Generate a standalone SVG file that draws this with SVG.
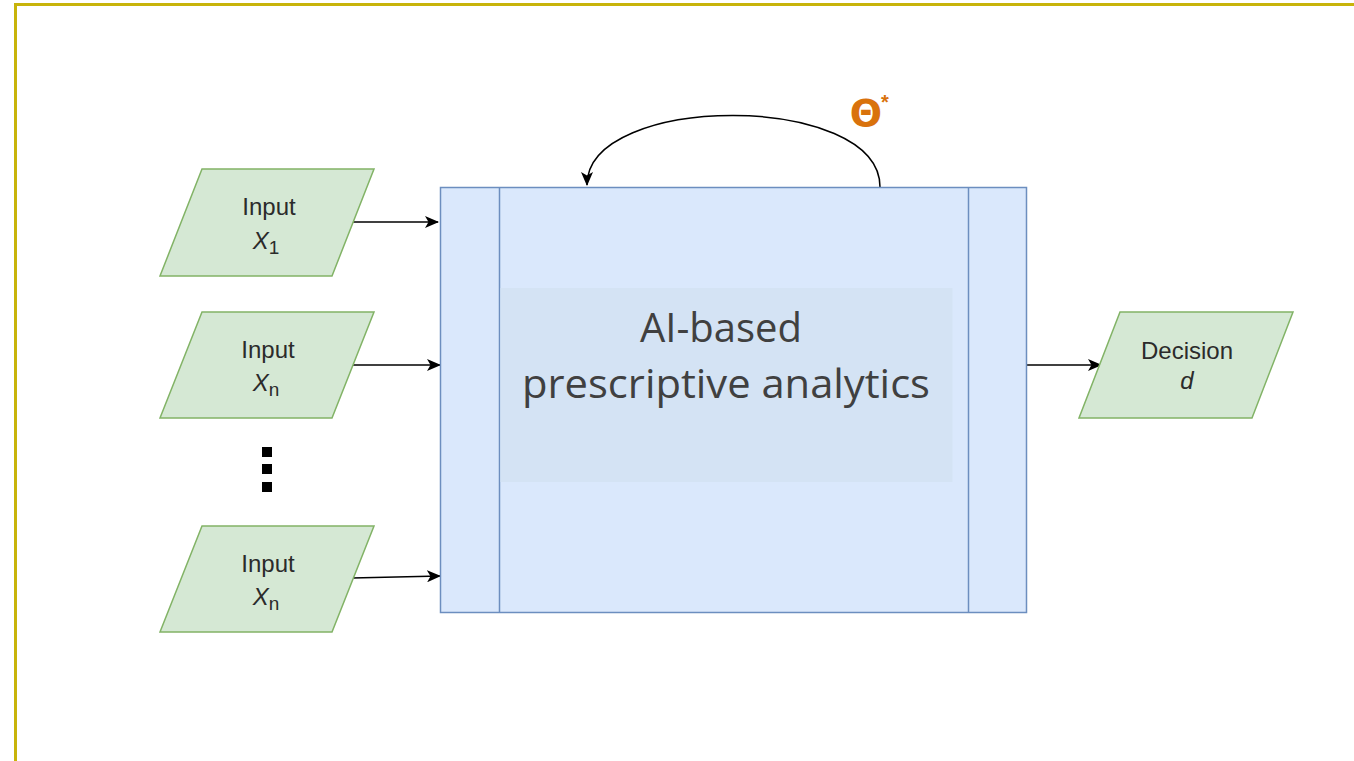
<svg xmlns="http://www.w3.org/2000/svg" width="1354" height="761" viewBox="0 0 1354 761">
<defs>
<style>
.io{fill:#d5e8d4;stroke:#82b366;stroke-width:1.5}
.lbl{font-family:"Liberation Sans",Arial,sans-serif;font-size:24px;fill:#2b2b2b;text-anchor:middle}
.it{font-style:italic}
.sub{font-size:19px;font-style:normal}
.con{fill:none;stroke:#000;stroke-width:1.5}
.main{fill:#dae8fc;stroke:#6c8ebf;stroke-width:1.5}
.big{font-family:"Open Sans","Noto Sans",sans-serif;font-size:40px;fill:#404040;text-anchor:middle}
</style>
<marker id="arr" markerWidth="14" markerHeight="12" refX="13" refY="6" orient="auto" markerUnits="userSpaceOnUse">
<path d="M0,0 L14,6 L0,12 L3.5,6 Z" fill="#000"/>
</marker>
</defs>
<rect width="1354" height="761" fill="#fff"/>
<g id="frame" fill="none" stroke="#c8b40a" stroke-width="3">
<path d="M15.5,761 V4.5 H1354"/>
</g>
<g id="connectors">
<path class="con" d="M352,222 H438" marker-end="url(#arr)"/>
<path class="con" d="M352,365 H440" marker-end="url(#arr)"/>
<path class="con" d="M352,578 L440,576" marker-end="url(#arr)"/>
<path class="con" d="M1027,365 H1101" marker-end="url(#arr)"/>
<path class="con" d="M880,187 C880,92 587,92 587,185" marker-end="url(#arr)"/>
</g>
<g id="ai-box">
<rect class="main" x="440.5" y="187.5" width="586" height="425"/>
<line x1="499.5" y1="187.5" x2="499.5" y2="612.5" stroke="#6c8ebf" stroke-width="1.5"/>
<line x1="968.5" y1="187.5" x2="968.5" y2="612.5" stroke="#6c8ebf" stroke-width="1.5"/>
<rect x="500.5" y="288" width="452" height="194" fill="#d4e3f4"/>
<text class="big" x="721" y="342">AI-based</text>
<text class="big" x="726" y="398" textLength="408" lengthAdjust="spacingAndGlyphs">prescriptive analytics</text>
</g>
<g id="theta">
<text x="866" y="126" font-family="'DejaVu Sans',sans-serif" font-weight="bold" font-size="38" fill="#d9720c" text-anchor="middle">Θ</text>
<text x="885" y="109" font-family="'Liberation Sans',sans-serif" font-weight="bold" font-size="20" fill="#d9720c" text-anchor="middle">*</text>
</g>
<g id="input1">
<polygon class="io" points="202,169 374,169 332,276 160,276"/>
<text class="lbl" x="269" y="215">Input</text>
<text class="lbl" x="266" y="249"><tspan class="it">X</tspan><tspan class="sub" dy="5">1</tspan></text>
</g>
<g id="input2">
<polygon class="io" points="202,312 374,312 332,418 160,418"/>
<text class="lbl" x="268" y="358">Input</text>
<text class="lbl" x="266" y="391"><tspan class="it">X</tspan><tspan class="sub" dy="5">n</tspan></text>
</g>
<g id="dots" fill="#000">
<rect x="262" y="447" width="10" height="10"/>
<rect x="262" y="464" width="10" height="10"/>
<rect x="262" y="482" width="10" height="10"/>
</g>
<g id="input3">
<polygon class="io" points="202,526 374,526 332,632 160,632"/>
<text class="lbl" x="268" y="572">Input</text>
<text class="lbl" x="266" y="605"><tspan class="it">X</tspan><tspan class="sub" dy="5">n</tspan></text>
</g>
<g id="decision">
<polygon class="io" points="1120,312 1293,312 1252,418 1079,418"/>
<text class="lbl" x="1187" y="359">Decision</text>
<text class="lbl it" x="1187" y="389">d</text>
</g>
</svg>
